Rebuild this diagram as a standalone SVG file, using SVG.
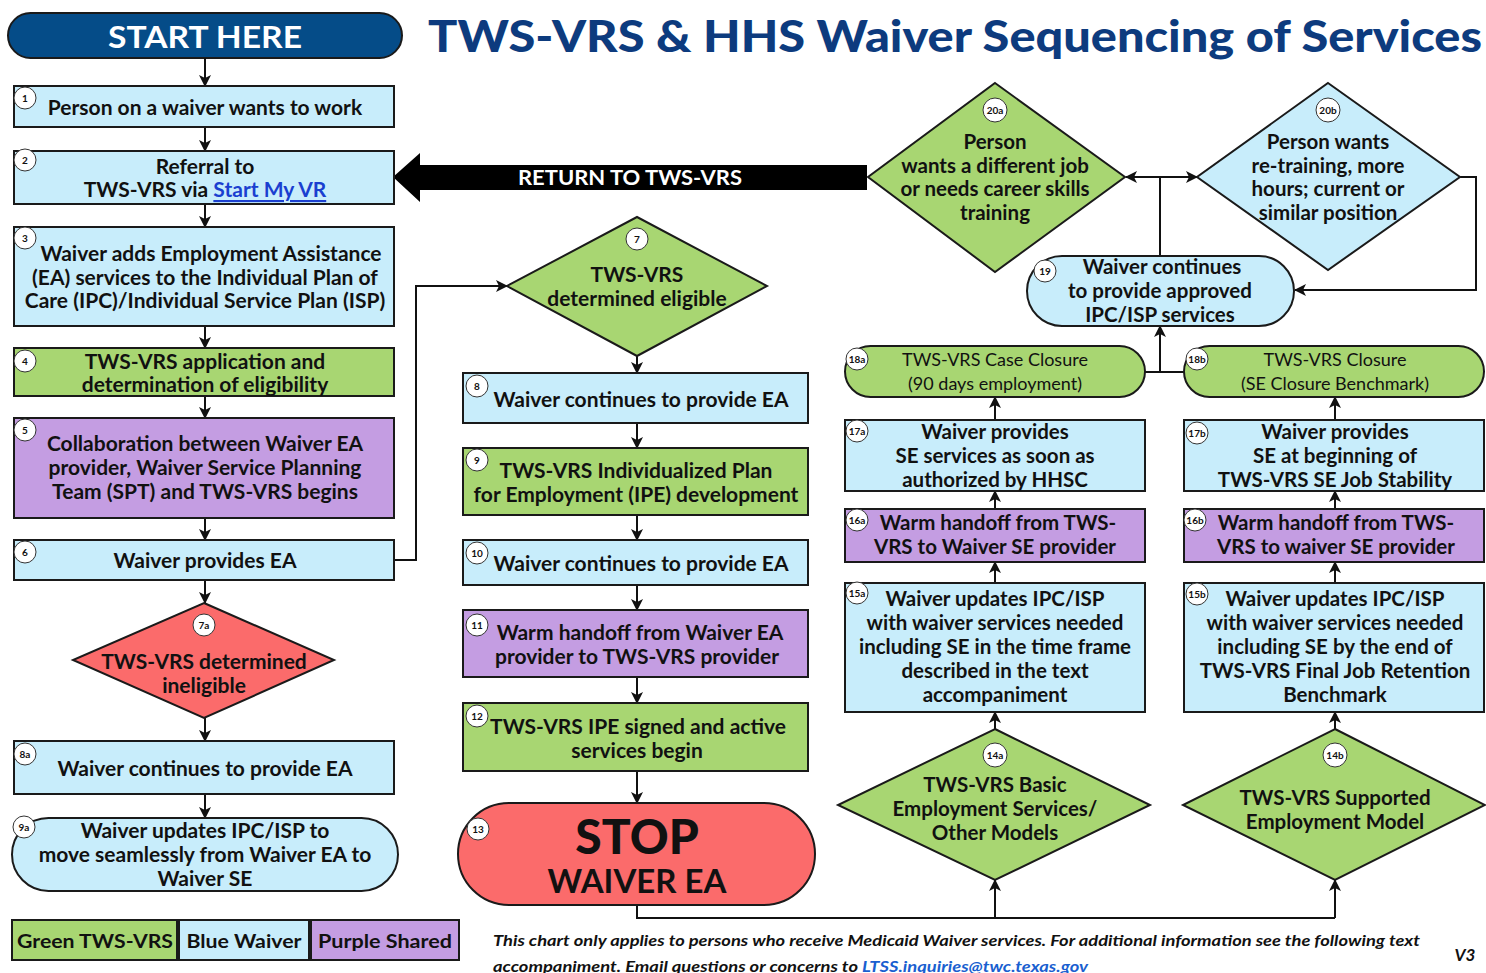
<svg xmlns="http://www.w3.org/2000/svg" width="1486" height="973" viewBox="0 0 1486 973">
<defs>
<style>
text{font-family:Lato,"Open Sans","Liberation Sans",sans-serif;font-weight:bold;fill:#111;text-anchor:middle;dominant-baseline:central}
.t{font-size:21px}
.s{font-size:20.5px}
.m{font-size:18px;font-weight:normal}
.blue{fill:#c8edfb;stroke:#1a1a1a;stroke-width:2}
.green{fill:#a8d672;stroke:#1a1a1a;stroke-width:2}
.purple{fill:#c49de2;stroke:#1a1a1a;stroke-width:2}
.red{fill:#fb6b6b;stroke:#1a1a1a;stroke-width:2}
.num circle{fill:#fff;stroke:#333;stroke-width:1}
.num text{font-size:10px}
.c{fill:none;stroke:#111;stroke-width:2}
.a{fill:none;stroke:#111;stroke-width:2;marker-end:url(#ah)}
.lg{font-size:19px}
</style>
<marker id="ah" markerUnits="userSpaceOnUse" markerWidth="12" markerHeight="12" viewBox="0 0 12 12" refX="11" refY="6" orient="auto">
<path d="M0,0 L12,6 L0,12 L3,6 z" fill="#111"/>
</marker>
</defs>
<rect width="1486" height="973" fill="#fff"/>

<text x="955" y="35" style="font-size:44px;fill:#0d3b7e;font-weight:900" textLength="1054" lengthAdjust="spacingAndGlyphs">TWS-VRS &amp; HHS Waiver Sequencing of Services</text>

<g id="start">
<rect x="8" y="13" width="394" height="45" rx="22.5" fill="#054c88" stroke="#1a1a1a" stroke-width="2"/>
<text x="205" y="36" style="font-size:30px;fill:#fff" textLength="194" lengthAdjust="spacingAndGlyphs">START HERE</text>
</g>

<g id="connectors">
<line class="a" x1="205" y1="58" x2="205" y2="86"/>
<line class="a" x1="205" y1="127" x2="205" y2="151"/>
<line class="a" x1="205" y1="204" x2="205" y2="227"/>
<line class="a" x1="205" y1="326" x2="205" y2="348"/>
<line class="a" x1="205" y1="396" x2="205" y2="418"/>
<line class="a" x1="205" y1="518" x2="205" y2="540"/>
<line class="a" x1="205" y1="580" x2="205" y2="603"/>
<line class="a" x1="205" y1="718" x2="205" y2="741"/>
<line class="a" x1="205" y1="794" x2="205" y2="818"/>
<polyline class="a" points="394,560 416,560 416,286 507,286"/>
<line class="a" x1="637" y1="356" x2="637" y2="373"/>
<line class="a" x1="637" y1="423" x2="637" y2="448"/>
<line class="a" x1="637" y1="515" x2="637" y2="540"/>
<line class="a" x1="637" y1="585" x2="637" y2="610"/>
<line class="a" x1="637" y1="677" x2="637" y2="703"/>
<line class="a" x1="637" y1="771" x2="637" y2="803"/>
<polyline class="c" points="637,905 637,918 1335,918"/>
<line class="a" x1="995" y1="918" x2="995" y2="880"/>
<line class="a" x1="1335" y1="918" x2="1335" y2="880"/>
<line class="a" x1="995" y1="729" x2="995" y2="712"/>
<line class="a" x1="995" y1="583" x2="995" y2="562"/>
<line class="a" x1="995" y1="509" x2="995" y2="491"/>
<line class="a" x1="995" y1="420" x2="995" y2="397"/>
<line class="a" x1="1335" y1="729" x2="1335" y2="712"/>
<line class="a" x1="1335" y1="583" x2="1335" y2="562"/>
<line class="a" x1="1335" y1="509" x2="1335" y2="491"/>
<line class="a" x1="1335" y1="420" x2="1335" y2="397"/>
<line class="c" x1="1145" y1="372" x2="1184" y2="372"/>
<line class="a" x1="1160" y1="372" x2="1160" y2="326"/>
<line class="c" x1="1160" y1="256" x2="1160" y2="177"/>
<line class="a" x1="1160" y1="177" x2="1126" y2="177"/>
<line class="a" x1="1160" y1="177" x2="1197" y2="177"/>
<polyline class="a" points="1460,177 1476,177 1476,290 1295,290"/>
</g>

<g id="return">
<polygon points="393,177 420,153 420,165 867,165 867,190 420,190 420,202" fill="#000"/>
<text x="630" y="177" style="font-size:20px;fill:#fff" textLength="224" lengthAdjust="spacingAndGlyphs">RETURN TO TWS-VRS</text>
</g>

<g id="n1">
<rect class="blue" x="14" y="86" width="380" height="41"/>
<text class="t" x="205" y="106">Person on a waiver wants to work</text>
<g class="num"><circle cx="25" cy="98" r="11"/><text x="25" y="98">1</text></g>
</g>

<g id="n2">
<rect class="blue" x="14" y="151" width="380" height="53"/>
<text class="t" x="205" y="165">Referral to</text>
<text class="t" x="205" y="188">TWS-VRS via <tspan style="fill:#1a3fd0;text-decoration:underline">Start My VR</tspan></text>
<g class="num"><circle cx="25" cy="160" r="11"/><text x="25" y="160">2</text></g>
</g>

<g id="n3">
<rect class="blue" x="14" y="227" width="380" height="99"/>
<text class="t" x="211" y="252">Waiver adds Employment Assistance</text>
<text class="t" x="205" y="276">(EA) services to the Individual Plan of</text>
<text class="t" x="205" y="299">Care (IPC)/Individual Service Plan (ISP)</text>
<g class="num"><circle cx="25" cy="238" r="11"/><text x="25" y="238">3</text></g>
</g>

<g id="n4">
<rect class="green" x="14" y="348" width="380" height="48"/>
<text class="t" x="205" y="360">TWS-VRS application and</text>
<text class="t" x="205" y="383">determination of eligibility</text>
<g class="num"><circle cx="25" cy="361" r="11"/><text x="25" y="361">4</text></g>
</g>

<g id="n5">
<rect class="purple" x="14" y="418" width="380" height="100"/>
<text class="t" x="205" y="442">Collaboration between Waiver EA</text>
<text class="t" x="205" y="466">provider, Waiver Service Planning</text>
<text class="t" x="205" y="490">Team (SPT) and TWS-VRS begins</text>
<g class="num"><circle cx="25" cy="430" r="11"/><text x="25" y="430">5</text></g>
</g>

<g id="n6">
<rect class="blue" x="14" y="540" width="380" height="40"/>
<text class="t" x="205" y="559">Waiver provides EA</text>
<g class="num"><circle cx="25" cy="552" r="11"/><text x="25" y="552">6</text></g>
</g>

<g id="n7a">
<polygon class="red" points="204,603 334,660 204,718 73,660"/>
<text class="t" x="204" y="660">TWS-VRS determined</text>
<text class="t" x="204" y="684">ineligible</text>
<g class="num"><circle cx="204" cy="625" r="11"/><text x="204" y="625">7a</text></g>
</g>

<g id="n8a">
<rect class="blue" x="14" y="741" width="380" height="53"/>
<text class="t" x="205" y="767">Waiver continues to provide EA</text>
<g class="num"><circle cx="25" cy="754" r="11"/><text x="25" y="754">8a</text></g>
</g>

<g id="n9a">
<rect class="blue" x="12" y="818" width="386" height="73" rx="36.5"/>
<text class="t" x="205" y="829">Waiver updates IPC/ISP to</text>
<text class="t" x="205" y="853">move seamlessly from Waiver EA to</text>
<text class="t" x="205" y="877">Waiver SE</text>
<g class="num"><circle cx="24" cy="827" r="11"/><text x="24" y="827">9a</text></g>
</g>

<g id="n7">
<polygon class="green" points="637,217 767,286 637,356 507,286"/>
<text class="t" x="637" y="273">TWS-VRS</text>
<text class="t" x="637" y="297">determined eligible</text>
<g class="num"><circle cx="637" cy="239" r="11"/><text x="637" y="239">7</text></g>
</g>

<g id="n8">
<rect class="blue" x="463" y="373" width="345" height="50"/>
<text class="t" x="641" y="398">Waiver continues to provide EA</text>
<g class="num"><circle cx="477" cy="386" r="11"/><text x="477" y="386">8</text></g>
</g>

<g id="n9">
<rect class="green" x="463" y="448" width="345" height="67"/>
<text class="t" x="636" y="469">TWS-VRS Individualized Plan</text>
<text class="t" x="636" y="493">for Employment (IPE) development</text>
<g class="num"><circle cx="477" cy="460" r="11"/><text x="477" y="460">9</text></g>
</g>

<g id="n10">
<rect class="blue" x="463" y="540" width="345" height="45"/>
<text class="t" x="641" y="562">Waiver continues to provide EA</text>
<g class="num"><circle cx="477" cy="553" r="11"/><text x="477" y="553">10</text></g>
</g>

<g id="n11">
<rect class="purple" x="463" y="610" width="345" height="67"/>
<text class="t" x="640" y="631">Warm handoff from Waiver EA</text>
<text class="t" x="637" y="655">provider to TWS-VRS provider</text>
<g class="num"><circle cx="477" cy="625" r="11"/><text x="477" y="625">11</text></g>
</g>

<g id="n12">
<rect class="green" x="463" y="703" width="345" height="68"/>
<text class="t" x="638" y="725">TWS-VRS IPE signed and active</text>
<text class="t" x="637" y="749">services begin</text>
<g class="num"><circle cx="477" cy="716" r="11"/><text x="477" y="716">12</text></g>
</g>

<g id="n13">
<rect class="red" x="458" y="803" width="357" height="102" rx="51"/>
<text x="637" y="835" style="font-size:48px;font-weight:900">STOP</text>
<text x="637" y="880" style="font-size:33px">WAIVER EA</text>
<g class="num"><circle cx="478" cy="829" r="11"/><text x="478" y="829">13</text></g>
</g>

<g id="n14a">
<polygon class="green" points="995,729 1150,805 995,880 838,805"/>
<text class="s" x="995" y="784">TWS-VRS Basic</text>
<text class="s" x="995" y="808">Employment Services/</text>
<text class="s" x="995" y="832">Other Models</text>
<g class="num"><circle cx="995" cy="755" r="12"/><text x="995" y="755">14a</text></g>
</g>

<g id="n14b">
<polygon class="green" points="1335,729 1485,805 1335,880 1183,805"/>
<text class="s" x="1335" y="797">TWS-VRS Supported</text>
<text class="s" x="1335" y="821">Employment Model</text>
<g class="num"><circle cx="1335" cy="755" r="12"/><text x="1335" y="755">14b</text></g>
</g>

<g id="n15a">
<rect class="blue" x="845" y="583" width="300" height="129"/>
<text class="s" x="995" y="598">Waiver updates IPC/ISP</text>
<text class="s" x="995" y="622">with waiver services needed</text>
<text class="s" x="995" y="646">including SE in the time frame</text>
<text class="s" x="995" y="670">described in the text</text>
<text class="s" x="995" y="694">accompaniment</text>
<g class="num"><circle cx="857" cy="593" r="11"/><text x="857" y="593">15a</text></g>
</g>

<g id="n15b">
<rect class="blue" x="1184" y="583" width="300" height="129"/>
<text class="s" x="1335" y="598">Waiver updates IPC/ISP</text>
<text class="s" x="1335" y="622">with waiver services needed</text>
<text class="s" x="1335" y="646">including SE by the end of</text>
<text class="s" x="1335" y="670">TWS-VRS Final Job Retention</text>
<text class="s" x="1335" y="694">Benchmark</text>
<g class="num"><circle cx="1197" cy="594" r="11"/><text x="1197" y="594">15b</text></g>
</g>

<g id="n16a">
<rect class="purple" x="845" y="509" width="300" height="53"/>
<text class="s" x="998" y="522">Warm handoff from TWS-</text>
<text class="s" x="995" y="546">VRS to Waiver SE provider</text>
<g class="num"><circle cx="857" cy="520" r="11"/><text x="857" y="520">16a</text></g>
</g>

<g id="n16b">
<rect class="purple" x="1184" y="509" width="300" height="53"/>
<text class="s" x="1336" y="522">Warm handoff from TWS-</text>
<text class="s" x="1336" y="546">VRS to waiver SE provider</text>
<g class="num"><circle cx="1195" cy="520" r="11"/><text x="1195" y="520">16b</text></g>
</g>

<g id="n17a">
<rect class="blue" x="845" y="420" width="300" height="71"/>
<text class="s" x="995" y="431">Waiver provides</text>
<text class="s" x="995" y="455">SE services as soon as</text>
<text class="s" x="995" y="479">authorized by HHSC</text>
<g class="num"><circle cx="857" cy="431" r="11"/><text x="857" y="431">17a</text></g>
</g>

<g id="n17b">
<rect class="blue" x="1184" y="420" width="300" height="71"/>
<text class="s" x="1335" y="431">Waiver provides</text>
<text class="s" x="1335" y="455">SE at beginning of</text>
<text class="s" x="1335" y="479">TWS-VRS SE Job Stability</text>
<g class="num"><circle cx="1197" cy="433" r="11"/><text x="1197" y="433">17b</text></g>
</g>

<g id="n18a">
<rect class="green" x="845" y="346" width="300" height="51" rx="25.5"/>
<text class="m" x="995" y="359">TWS-VRS Case Closure</text>
<text class="m" x="995" y="383">(90 days employment)</text>
<g class="num"><circle cx="857" cy="359" r="11"/><text x="857" y="359">18a</text></g>
</g>

<g id="n18b">
<rect class="green" x="1184" y="346" width="300" height="51" rx="25.5"/>
<text class="m" x="1335" y="359">TWS-VRS Closure</text>
<text class="m" x="1335" y="383">(SE Closure Benchmark)</text>
<g class="num"><circle cx="1197" cy="359" r="11"/><text x="1197" y="359">18b</text></g>
</g>

<g id="n20a">
<polygon class="green" points="995,83 1125,177 995,272 868,177"/>
<text class="s" x="995" y="141">Person</text>
<text class="s" x="995" y="165">wants a different job</text>
<text class="s" x="995" y="188">or needs career skills</text>
<text class="s" x="995" y="212">training</text>
<g class="num"><circle cx="995" cy="110" r="12"/><text x="995" y="110">20a</text></g>
</g>

<g id="n20b">
<polygon class="blue" points="1328,83 1460,177 1328,270 1197,177"/>
<text class="s" x="1328" y="141">Person wants</text>
<text class="s" x="1328" y="165">re-training, more</text>
<text class="s" x="1328" y="188">hours; current or</text>
<text class="s" x="1328" y="212">similar position</text>
<g class="num"><circle cx="1328" cy="110" r="12"/><text x="1328" y="110">20b</text></g>
</g>

<g id="n19">
<rect class="blue" x="1027" y="256" width="267" height="70" rx="35"/>
<text class="s" x="1162" y="266">Waiver continues</text>
<text class="s" x="1160" y="290">to provide approved</text>
<text class="s" x="1160" y="314">IPC/ISP services</text>
<g class="num"><circle cx="1045" cy="271" r="11"/><text x="1045" y="271">19</text></g>
</g>

<g id="legend">
<rect class="green" x="12" y="920" width="165" height="40"/>
<text class="lg" x="95" y="940" textLength="156" lengthAdjust="spacingAndGlyphs">Green TWS-VRS</text>
<rect class="blue" x="179" y="920" width="130" height="40"/>
<text class="lg" x="244" y="940" textLength="115" lengthAdjust="spacingAndGlyphs">Blue Waiver</text>
<rect class="purple" x="311" y="920" width="148" height="40"/>
<text class="lg" x="385" y="940" textLength="134" lengthAdjust="spacingAndGlyphs">Purple Shared</text>
</g>

<g id="footer">
<text x="493" y="940" style="font-size:15px;font-style:italic;text-anchor:start" textLength="927" lengthAdjust="spacingAndGlyphs">This chart only applies to persons who receive Medicaid Waiver services. For additional information see the following text</text>
<text x="493" y="966" style="font-size:15px;font-style:italic;text-anchor:start" textLength="365" lengthAdjust="spacingAndGlyphs">accompaniment. Email questions or concerns to</text>
<text x="862" y="966" style="font-size:15px;font-style:italic;text-anchor:start;fill:#1a5fd0;text-decoration:underline" textLength="226" lengthAdjust="spacingAndGlyphs">LTSS.inquiries@twc.texas.gov</text>
<text x="1465" y="954" style="font-size:17px;font-style:italic">V3</text>
</g>
</svg>
